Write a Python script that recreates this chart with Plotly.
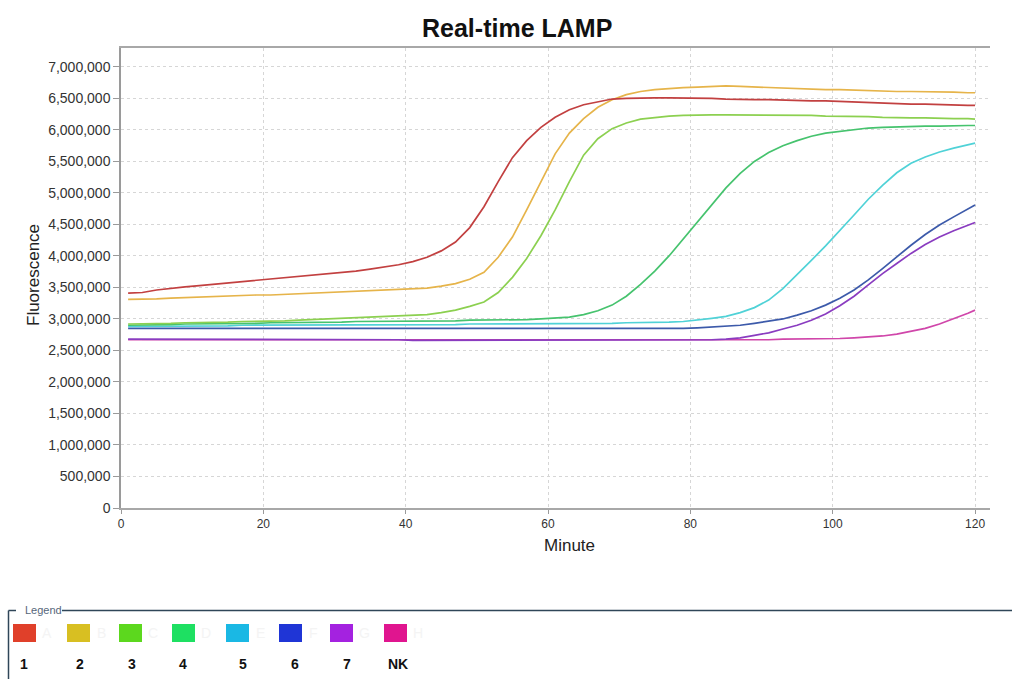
import plotly.graph_objects as go

# ---------------- data (fluorescence in millions) ----------------
MINUTES = list(range(1, 121, 2)) + [120]

S1 = [3.41, 3.42, 3.46, 3.49, 3.51, 3.53, 3.55, 3.57, 3.59, 3.61,
      3.63, 3.65, 3.67, 3.69, 3.71, 3.73, 3.76, 3.79, 3.82, 3.86,
      3.91, 3.98, 4.08, 4.22, 4.45, 4.78, 5.18, 5.56, 5.83, 6.04,
      6.20, 6.32, 6.40, 6.45, 6.49, 6.50, 6.51, 6.51, 6.51, 6.51,
      6.50, 6.50, 6.49, 6.48, 6.48, 6.48, 6.47, 6.47, 6.46, 6.46,
      6.45, 6.44, 6.43, 6.42, 6.42, 6.41, 6.41, 6.40, 6.40, 6.39, 6.39]

S2 = [3.31, 3.31, 3.32, 3.33, 3.34, 3.35, 3.35, 3.36, 3.37, 3.38,
      3.38, 3.39, 3.40, 3.41, 3.42, 3.43, 3.44, 3.45, 3.46, 3.47,
      3.48, 3.49, 3.52, 3.56, 3.63, 3.74, 3.98, 4.30, 4.73, 5.18,
      5.62, 5.95, 6.18, 6.36, 6.48, 6.56, 6.61, 6.64, 6.66, 6.67,
      6.68, 6.69, 6.70, 6.69, 6.68, 6.67, 6.67, 6.66, 6.65, 6.64,
      6.64, 6.63, 6.62, 6.62, 6.61, 6.61, 6.61, 6.60, 6.60, 6.59, 6.59]

S3 = [2.92, 2.92, 2.93, 2.93, 2.94, 2.94, 2.95, 2.95, 2.96, 2.96,
      2.97, 2.97, 2.98, 2.99, 2.99, 3.00, 3.01, 3.02, 3.03, 3.04,
      3.05, 3.07, 3.10, 3.14, 3.20, 3.27, 3.42, 3.66, 3.96, 4.32,
      4.73, 5.18, 5.60, 5.86, 6.02, 6.11, 6.17, 6.20, 6.22, 6.23,
      6.24, 6.24, 6.24, 6.24, 6.24, 6.24, 6.24, 6.23, 6.23, 6.22,
      6.22, 6.21, 6.21, 6.20, 6.19, 6.19, 6.19, 6.18, 6.18, 6.18, 6.17]

S4 = [2.90, 2.90, 2.91, 2.91, 2.92, 2.92, 2.92, 2.93, 2.93, 2.93,
      2.94, 2.94, 2.94, 2.95, 2.95, 2.95, 2.96, 2.96, 2.96, 2.97,
      2.97, 2.97, 2.97, 2.97, 2.98, 2.98, 2.98, 2.98, 2.99, 3.00,
      3.01, 3.03, 3.07, 3.13, 3.22, 3.36, 3.55, 3.76, 4.00, 4.27,
      4.55, 4.82, 5.08, 5.31, 5.50, 5.64, 5.75, 5.83, 5.90, 5.95,
      5.98, 6.01, 6.03, 6.04, 6.05, 6.05, 6.06, 6.06, 6.07, 6.07, 6.07]

S5 = [2.88, 2.88, 2.88, 2.89, 2.89, 2.89, 2.89, 2.89, 2.90, 2.90,
      2.90, 2.90, 2.90, 2.90, 2.90, 2.90, 2.91, 2.91, 2.91, 2.91,
      2.91, 2.91, 2.91, 2.91, 2.92, 2.92, 2.92, 2.92, 2.92, 2.92,
      2.92, 2.93, 2.93, 2.93, 2.93, 2.94, 2.94, 2.94, 2.95, 2.96,
      2.98, 3.01, 3.04, 3.10, 3.18, 3.30, 3.48, 3.70, 3.93, 4.16,
      4.40, 4.65, 4.90, 5.12, 5.32, 5.47, 5.57, 5.65, 5.71, 5.77, 5.79]

S6 = [2.85, 2.85, 2.85, 2.85, 2.85, 2.85, 2.85, 2.85, 2.85, 2.85,
      2.85, 2.85, 2.85, 2.85, 2.85, 2.85, 2.85, 2.85, 2.85, 2.85,
      2.84, 2.84, 2.84, 2.84, 2.84, 2.84, 2.84, 2.84, 2.84, 2.84,
      2.84, 2.84, 2.84, 2.84, 2.85, 2.85, 2.85, 2.85, 2.85, 2.85,
      2.86, 2.87, 2.88, 2.90, 2.93, 2.96, 3.00, 3.06, 3.13, 3.22,
      3.33, 3.46, 3.62, 3.80, 3.99, 4.17, 4.34, 4.49, 4.62, 4.75, 4.81]

S7 = [2.68, 2.68, 2.68, 2.68, 2.67, 2.67, 2.67, 2.67, 2.67, 2.67,
      2.67, 2.67, 2.67, 2.67, 2.67, 2.67, 2.67, 2.67, 2.67, 2.67,
      2.66, 2.66, 2.66, 2.66, 2.66, 2.66, 2.66, 2.66, 2.66, 2.66,
      2.66, 2.66, 2.66, 2.66, 2.66, 2.66, 2.66, 2.66, 2.66, 2.66,
      2.66, 2.67, 2.68, 2.70, 2.74, 2.78, 2.84, 2.90, 2.98, 3.08,
      3.21, 3.36, 3.54, 3.72, 3.88, 4.04, 4.18, 4.30, 4.40, 4.49, 4.53]

SNK = [2.67, 2.67, 2.67, 2.67, 2.67, 2.67, 2.67, 2.67, 2.67, 2.67,
       2.67, 2.67, 2.67, 2.67, 2.67, 2.67, 2.67, 2.67, 2.67, 2.67,
       2.66, 2.66, 2.66, 2.66, 2.66, 2.66, 2.66, 2.66, 2.66, 2.66,
       2.66, 2.66, 2.66, 2.66, 2.66, 2.66, 2.66, 2.66, 2.66, 2.66,
       2.66, 2.66, 2.66, 2.67, 2.67, 2.67, 2.68, 2.68, 2.68, 2.69,
       2.69, 2.70, 2.71, 2.73, 2.76, 2.80, 2.85, 2.92, 3.00, 3.09, 3.14]

SERIES_NAMES = ["1", "2", "3", "4", "5", "6", "7", "NK"]
SERIES_VALUES = [S1, S2, S3, S4, S5, S6, S7, SNK]
LINE_COLORS = ["#c24040", "#e6b44a", "#8cd050", "#46c36e",
               "#50d2d7", "#3c5aaa", "#8a3cc0", "#d046aa"]
SWATCH_COLORS = ["#e0402a", "#d8bf22", "#5cd81e", "#1ee062",
                 "#1ab8e4", "#1f35d6", "#a422e0", "#e0158f"]
SWATCH_HINTS = ["A", "B", "C", "D", "E", "F", "G", "H"]

X_TICKS = [0, 20, 40, 60, 80, 100, 120]
SCALE = 1_000_000

# ---------------- figure ----------------
W, H = 1012, 679
ML, MR, MT, MB = 121, 22, 48, 171
PW, PH = W - ML - MR, H - MT - MB


def PX(x):
    return (x - ML) / PW


def PY(y):
    return (H - MB - y) / PH


fig = go.Figure()
order = list(range(len(SERIES_NAMES)))[::-1]
for i in order:
    fig.add_trace(go.Scatter(
        x=MINUTES,
        y=[v * SCALE for v in SERIES_VALUES[i]],
        mode="lines",
        name=SERIES_NAMES[i],
        line=dict(color=LINE_COLORS[i], width=1.7),
    ))

font_family = "Liberation Sans, Arial, sans-serif"
grid = "#d6d6d6"

fig.update_layout(
    width=W, height=H,
    margin=dict(l=ML, r=MR, t=MT, b=MB),
    plot_bgcolor="white", paper_bgcolor="white",
    showlegend=False,
    font=dict(family=font_family, color="#333"),
    xaxis=dict(
        range=[0, 122.1], tickvals=X_TICKS,
        showgrid=True, gridcolor=grid, griddash="3px,3px", gridwidth=1,
        showline=True, linecolor="#a8a8a8", linewidth=1.5, mirror=True,
        zeroline=False, ticks="outside", ticklen=4, tickcolor="#9a9a9a",
        tickfont=dict(size=12, color="#333"),
    ),
    yaxis=dict(
        range=[0, 7.3 * SCALE], dtick=500000, tickformat=",d",
        showgrid=True, gridcolor=grid, griddash="3px,3px", gridwidth=1,
        showline=True, linecolor="#9a9a9a", linewidth=1.5,
        zeroline=False, ticks="outside", ticklen=6, tickcolor="#9a9a9a",
        tickfont=dict(size=14, color="#333"),
    ),
)


def note(text, x, y, size, color, angle=0, xanchor="center", yanchor="middle"):
    return dict(text=text, x=PX(x), y=PY(y), xref="paper", yref="paper",
                showarrow=False, textangle=angle,
                xanchor=xanchor, yanchor=yanchor,
                font=dict(size=size, color=color, family=font_family))


ann = [
    note("<b>Real-time LAMP</b>", 517, 28, 25, "#111"),
    note("Fluorescence", 33, 275, 17, "#222", angle=-90),
    note("Minute", 569, 545, 17, "#222"),
    note("Legend", 23, 610, 11, "#56667a", xanchor="left"),
]

shapes = []
frame_col = "#2f4658"
shapes.append(dict(type="line", xref="paper", yref="paper",
                   x0=PX(8.5), x1=PX(8.5), y0=PY(610.5), y1=PY(H + 5),
                   line=dict(color=frame_col, width=1.5)))
shapes.append(dict(type="line", xref="paper", yref="paper",
                   x0=PX(8.5), x1=PX(16), y0=PY(610.5), y1=PY(610.5),
                   line=dict(color=frame_col, width=1.5)))
shapes.append(dict(type="line", xref="paper", yref="paper",
                   x0=PX(62), x1=PX(W + 5), y0=PY(610.5), y1=PY(610.5),
                   line=dict(color=frame_col, width=1.5)))

SW_X0 = [13, 67, 119, 172, 226, 279, 330, 384]
LBL_X = [24, 80, 132, 183, 243, 295, 347, 398]
for i, name in enumerate(SERIES_NAMES):
    x0 = SW_X0[i]
    shapes.append(dict(type="rect", xref="paper", yref="paper",
                       x0=PX(x0), x1=PX(x0 + 23), y0=PY(642), y1=PY(624),
                       fillcolor=SWATCH_COLORS[i], line=dict(width=0)))
    ann.append(note(SWATCH_HINTS[i], x0 + 34, 633, 14, "#f4f4f4"))
    ann.append(note("<b>%s</b>" % name, LBL_X[i], 664, 14, "#111"))

fig.update_layout(annotations=ann, shapes=shapes)
fig.write_html(
    "out.html",
    config={"displayModeBar": False},
    post_script="document.body.style.margin='0';document.body.style.overflow='hidden';",
)
